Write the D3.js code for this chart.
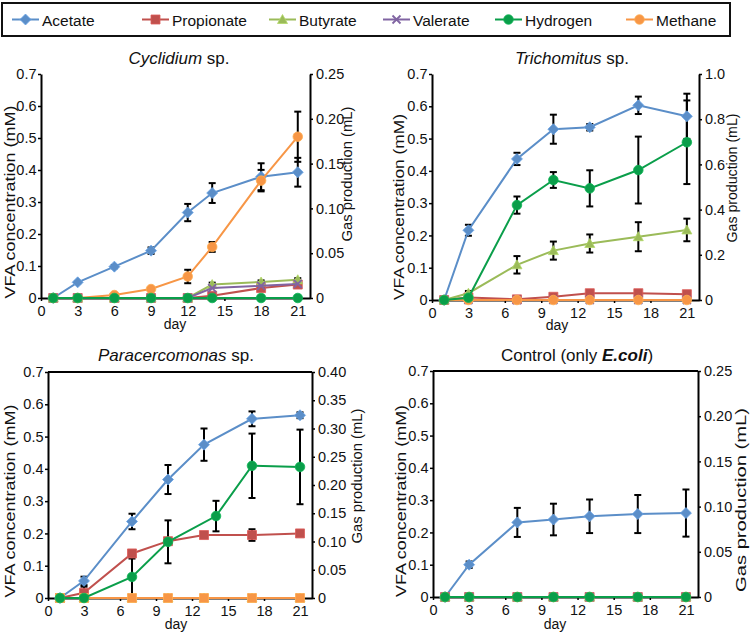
<!DOCTYPE html>
<html><head><meta charset="utf-8">
<script src="https://cdn.jsdelivr.net/npm/d3@7"></script>
<style>
body{margin:0;background:#fff}
svg{display:block}
text{font-family:"Liberation Sans",Arial,Helvetica,sans-serif;fill:#111}
</style>
</head><body><svg id="c" width="750" height="633"></svg>
<script>
// ---------- data ----------
const seriesNames = ["Acetate","Propionate","Butyrate","Valerate","Hydrogen","Methane"];
const seriesColors = ["#5b8ec8","#c0504d","#9bbb59","#8064a2","#0a9e4a","#f79646"];

const dayTicks = [0,3,6,9,12,15,18,21];
const vfaTicks = [0,0.1,0.2,0.3,0.4,0.5,0.6,0.7];
const gasTicksA = [0,0.05,0.10,0.15,0.20,0.25];
const gasTicksB = [0,0.2,0.4,0.6,0.8,1.0];
const gasTicksC = [0,0.05,0.10,0.15,0.20,0.25,0.30,0.35,0.40];

// Cyclidium sp.
const cycDays = [1,3,6,9,12,14,18,21];
const cycAcetate = [0,0.049,0.098,0.148,0.267,0.328,0.379,0.393];
const cycAcetateErr = [0,0.003,0.005,0.01,0.027,0.031,0.042,0.045];
const cycPropionate = [0,0,0,0,0,0.007,0.031,0.042];
const cycPropionateErr = [0,0,0,0,0,0.004,0.004,0.004];
const cycButyrate = [0,0,0,0,0,0.042,0.050,0.057];
const cycButyrateErr = [0,0,0,0,0,0.006,0.005,0.005];
const cycValerate = [0,0,0,0,0,0.031,0.038,0.044];
const cycHydrogen = [0,0,0,0,0,0,0,0];
const cycMethane = [0,0,0.0033,0.010,0.024,0.057,0.131,0.180];
const cycMethaneErr = [0,0,0,0,0.0075,0.0055,0.012,0.028];

// Trichomitus sp.
const triDays = [1,3,7,10,13,17,21];
const triAcetate = [0,0.216,0.437,0.529,0.535,0.603,0.569];
const triAcetateErr = [0,0.017,0.019,0.045,0.01,0.027,0.07];
const triPropionate = [0,0.008,0.002,0.010,0.021,0.021,0.018];
const triPropionateErr = [0,0.01,0.005,0.003,0,0.005,0];
const triButyrate = [0,0.021,0.109,0.153,0.175,0.196,0.217];
const triButyrateErr = [0,0,0.027,0.028,0.028,0.045,0.035];
const triValerate = [0,0,0,0,0,0,0];
const triHydrogen = [0,0.010,0.420,0.531,0.494,0.575,0.698];
const triHydrogenErr = [0,0.03,0.038,0.035,0.08,0.148,0.185];
const triMethane = [0,0,0,0,0,0,0];

// Paracercomonas sp.
const parDays = [1,3,7,10,13,17,21];
const parH2Days = [1,3,7,10,14,17,21];
const parAcetate = [0,0.053,0.237,0.367,0.475,0.555,0.566];
const parAcetateErr = [0,0.013,0.024,0.045,0.05,0.023,0.009];
const parPropionate = [0,0.016,0.138,0.176,0.195,0.195,0.200];
const parPropionateErr = [0,0.019,0,0,0,0.018,0];
const parButyrate = [0,0,0,0,0,0,0];
const parValerate = [0,0,0,0,0,0,0];
const parHydrogen = [0,0,0.0373,0.0994,0.145,0.234,0.232];
const parHydrogenErr = [0,0,0.0325,0.038,0.027,0.057,0.066];
const parMethane = [0,0,0,0,0,0,0];

// Control (only E.coli)
const conDays = [1,3,7,10,13,17,21];
const conAcetate = [0,0.100,0.231,0.240,0.250,0.257,0.260];
const conAcetateErr = [0,0.01,0.045,0.049,0.052,0.059,0.073];
const conPropionate = [0,0,0,0,0,0,0];
const conButyrate = [0,0,0,0,0,0,0];
const conValerate = [0,0,0,0,0,0,0];
const conHydrogen = [0,0,0,0,0,0,0];
const conMethane = [0,0,0,0,0,0,0];

// ---------- helpers ----------
const svg = d3.select("#c");
svg.append("rect").attr("width",750).attr("height",633).attr("fill","#fff");

function zip(days, vals, errs){ return days.map((d,i)=>({day:d, v:vals[i], e: errs ? errs[i] : 0})); }

const shapes = {
  diamond: "M0,-5.5L5.5,0L0,5.5L-5.5,0Z",
  square: "M-4.5,-4.5H4.5V4.5H-4.5Z",
  triangle: "M0,-5L5,4H-5Z",
  circle: d3.symbol().type(d3.symbolCircle).size(72)()
};
const seriesShape = ["diamond","square","triangle","x","circle","circle"];

function marker(g, shape, color, cx, cy){
  if (shape === "x") {
    g.append("path").attr("d","M-4,-4L4,4M-4,4L4,-4").attr("transform",`translate(${cx},${cy})`)
      .attr("stroke",color).attr("stroke-width",1.8).attr("fill","none");
  } else {
    g.append("path").attr("d",shapes[shape]).attr("transform",`translate(${cx},${cy})`)
      .attr("fill",color).attr("stroke",d3.color(color).brighter(0.4)).attr("stroke-width",0.8);
  }
}

// ---------- panels ----------
const panels = [
  { title:[["Cyclidium","italic"],[" sp.","normal"]], titleX:179, titleY:64,
    left:41, right:310, top:74, bottom:298, rMax:0.25, rTicks:gasTicksA, rFmt:".2f", border:false,
    dayX:175, dayY:329, vfaX:15, vfaY:202, vfaLen:193, gasX:352, gasY:174, gasLen:135,
    series:[ zip(cycDays,cycAcetate,cycAcetateErr), zip(cycDays,cycPropionate,cycPropionateErr),
             zip(cycDays,cycButyrate,cycButyrateErr), zip(cycDays,cycValerate),
             zip(cycDays,cycHydrogen), zip(cycDays,cycMethane,cycMethaneErr) ],
    methaneShape:"circle" },
  { title:[["Trichomitus","italic"],[" sp.","normal"]], titleX:572, titleY:64,
    left:432, right:699, top:74, bottom:300, rMax:1.0, rTicks:gasTicksB, rFmt:".1f", border:false,
    dayX:557, dayY:330, vfaX:404, vfaY:207, vfaLen:186, gasX:737, gasY:178, gasLen:129,
    series:[ zip(triDays,triAcetate,triAcetateErr), zip(triDays,triPropionate,triPropionateErr),
             zip(triDays,triButyrate,triButyrateErr), zip(triDays,triValerate),
             zip(triDays,triHydrogen,triHydrogenErr), zip(triDays,triMethane) ],
    methaneShape:"circle" },
  { title:[["Paracercomonas","italic"],[" sp.","normal"]], titleX:176, titleY:361,
    left:48, right:312, top:372, bottom:598, rMax:0.40, rTicks:gasTicksC, rFmt:".2f", border:true,
    dayX:176, dayY:629, vfaX:15, vfaY:501, vfaLen:193, gasX:362, gasY:476, gasLen:135,
    series:[ zip(parDays,parAcetate,parAcetateErr), zip(parDays,parPropionate,parPropionateErr),
             zip(parDays,parButyrate), zip(parDays,parValerate),
             zip(parH2Days,parHydrogen,parHydrogenErr), zip(parDays,parMethane) ],
    methaneShape:"square" },
  { title:[["Control (only ","normal"],["E.coli","bolditalic"],[")","normal"]], titleX:577, titleY:361,
    left:433, right:698, top:371, bottom:597, rMax:0.25, rTicks:gasTicksA, rFmt:".2f", border:true,
    dayX:555, dayY:629, vfaX:406, vfaY:501, vfaLen:192, gasX:746, gasY:500, gasLen:184,
    series:[ zip(conDays,conAcetate,conAcetateErr), zip(conDays,conPropionate),
             zip(conDays,conButyrate), zip(conDays,conValerate),
             zip(conDays,conHydrogen), zip(conDays,conMethane) ],
    methaneShape:"circle" }
];

function fmtTick(f){ return d => d===0 ? "0" : d3.format(f)(d); }

panels.forEach(p => {
  const g = svg.append("g");
  const x = d3.scaleLinear().domain([0,22]).range([p.left,p.right]);
  const yL = d3.scaleLinear().domain([0,0.7]).range([p.bottom,p.top]);
  const yR = d3.scaleLinear().domain([0,p.rMax]).range([p.bottom,p.top]);

  if (p.border) {
    g.append("line").attr("x1",p.left).attr("x2",p.right).attr("y1",p.top).attr("y2",p.top)
      .attr("stroke","#000").attr("stroke-width",2);
  }

  const ax = [
    g.append("g").attr("transform",`translate(${p.left},0)`)
      .call(d3.axisLeft(yL).tickValues(vfaTicks).tickFormat(fmtTick(".1f")).tickSize(3).tickSizeOuter(0).tickPadding(1.5)),
    g.append("g").attr("transform",`translate(${p.right},0)`)
      .call(d3.axisRight(yR).tickValues(p.rTicks).tickFormat(fmtTick(p.rFmt)).tickSize(3).tickSizeOuter(0).tickPadding(3)),
    g.append("g").attr("transform",`translate(0,${p.bottom})`)
      .call(d3.axisBottom(x).tickValues(dayTicks).tickFormat(d3.format("d")).tickSize(3).tickSizeOuter(0).tickPadding(5))
  ];
  ax.forEach(a => {
    a.select(".domain").attr("stroke","#000").attr("stroke-width",2);
    a.selectAll(".tick line").attr("stroke","#000").attr("stroke-width",1.5);
    a.selectAll(".tick text").attr("font-size",14.5).attr("fill","#111")
      .style("font-family","'Liberation Sans',Arial,sans-serif");
  });

  // titles
  const t = g.append("text").attr("x",p.titleX).attr("y",p.titleY).attr("text-anchor","middle").attr("font-size",17);
  p.title.forEach(([s,st]) => {
    const ts = t.append("tspan").text(s);
    if (st === "italic") ts.attr("font-style","italic");
    if (st === "bolditalic") ts.attr("font-style","italic").attr("font-weight","bold");
  });
  g.append("text").attr("x",p.dayX).attr("y",p.dayY).attr("text-anchor","middle").attr("font-size",14).text("day");
  g.append("text").attr("transform",`translate(${p.vfaX},${p.vfaY}) rotate(-90)`).attr("text-anchor","middle")
    .attr("font-size",15).attr("textLength",p.vfaLen).attr("lengthAdjust","spacingAndGlyphs")
    .text("VFA concentration (mM)");
  g.append("text").attr("transform",`translate(${p.gasX},${p.gasY}) rotate(-90)`).attr("text-anchor","middle")
    .attr("font-size",15).attr("textLength",p.gasLen).attr("lengthAdjust","spacingAndGlyphs")
    .text("Gas production (mL)");

  // drawing order: VFA series, methane, hydrogen
  const order = [0,1,2,3,5,4];
  const yFor = i => (i >= 4 ? yR : yL);

  // error bars
  const eg = g.append("g");
  order.forEach(i => {
    const y = yFor(i);
    p.series[i].filter(d => d.e > 0).forEach(d => {
      const cx = x(d.day), y1 = y(d.v + d.e), y2 = y(Math.max(0, d.v - d.e));
      eg.append("line").attr("x1",cx).attr("x2",cx).attr("y1",y1).attr("y2",y2).attr("stroke","#000").attr("stroke-width",2);
      [y1, y(d.v - d.e)].forEach(yy => {
        if (yy <= p.bottom + 0.5)
          eg.append("line").attr("x1",cx-3.5).attr("x2",cx+3.5).attr("y1",yy).attr("y2",yy).attr("stroke","#000").attr("stroke-width",2);
      });
    });
  });

  // lines + markers
  order.forEach(i => {
    const y = yFor(i);
    const col = seriesColors[i];
    const sg = g.append("g");
    const line = d3.line().x(d => x(d.day)).y(d => y(d.v));
    sg.append("path").attr("d", line(p.series[i])).attr("fill","none").attr("stroke",col).attr("stroke-width",2);
    const shp = i === 5 ? p.methaneShape : seriesShape[i];
    p.series[i].forEach(d => marker(sg, shp, col, x(d.day), y(d.v)));
  });
});

// ---------- legend ----------
const lg = svg.append("g");
lg.append("rect").attr("x",2).attr("y",3).attr("width",728).attr("height",33)
  .attr("fill","#fff").attr("stroke","#111").attr("stroke-width",2);
const legendX = [12,142,269,383,495,626];
seriesNames.forEach((n,i) => {
  const x0 = legendX[i];
  lg.append("line").attr("x1",x0).attr("x2",x0+27).attr("y1",19.5).attr("y2",19.5)
    .attr("stroke",seriesColors[i]).attr("stroke-width",2);
  marker(lg, seriesShape[i], seriesColors[i], x0+13.5, 19.5);
  lg.append("text").attr("x",x0+30).attr("y",25.5).attr("font-size",15.5).text(n);
});
</script>
</body></html>
